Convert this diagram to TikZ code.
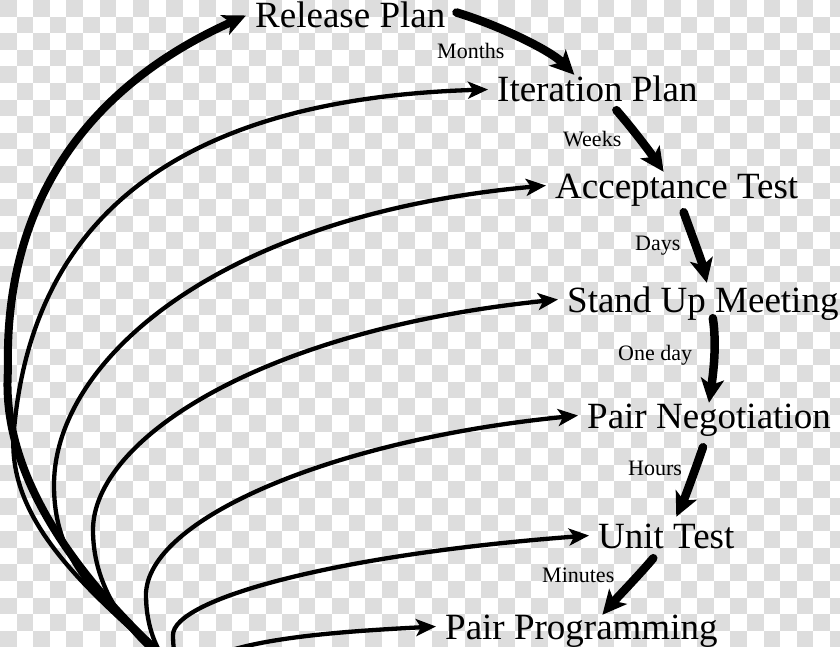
\documentclass[tikz,border=0pt]{standalone}
\usepackage{fontspec}
\setmainfont{Liberation Serif}
\usetikzlibrary{arrows.meta}
\definecolor{checkgray}{RGB}{221,221,221}

\begin{document}
\begin{tikzpicture}[x=1pt,y=-1pt,
	stage/.style={anchor=base west,inner xsep=9pt,inner ysep=0pt,text height=25pt,text depth=0pt,font=\fontsize{37}{40}\selectfont},
	span/.style={anchor=base west,inner sep=0pt,font=\fontsize{22}{24}\selectfont},
	fan/.style={line width=4.3pt,-{Stealth[length=20pt,width=17pt,inset=5pt]}},
	hop/.style={line width=8.5pt,line cap=round,-{Stealth[length=24pt,width=23pt,inset=6pt]}}]
	\useasboundingbox (0,0) rectangle (840,647);
	\clip (0,0) rectangle (840,647);
	
	% Background
	\fill[white] (0,0) rectangle (840,647);
	\foreach \i in {0,...,50}
		\foreach \j in {0,2,...,38}{
			\pgfmathsetmacro\jj{\j+mod(\i,2)}
			\fill[checkgray] (\i*16.6,\jj*16.6) rectangle ++(16.6,16.6);
		}
	
	% Nodes
	\node[stage] (rp) at (246,28) {Release Plan};
	\node[stage] (ip) at (488,102) {Iteration Plan};
	\node[stage] (acc) at (546,198) {Acceptance Test};
	\node[stage] (su) at (558,312) {Stand Up Meeting};
	\node[stage] (pn) at (578,428) {Pair Negotiation};
	\node[stage] (ut) at (589,548) {Unit Test};
	\node[stage] (pp) at (436,639) {Pair Programming};
	
	\node[span] (months) at (437,59) {Months};
	\node[span] (weeks) at (563,147) {Weeks};
	\node[span] (days) at (635,250) {Days};
	\node[span] (oneday) at (618,360) {One day};
	\node[span] (hours) at (628,475) {Hours};
	\node[span] (minutes) at (542,582) {Minutes};
	
	\coordinate (o) at (185,676);
	
	% Curves
	\draw[fan,line width=8pt,-{Stealth[length=23pt,width=21pt,inset=6pt]}] (o) .. controls (85,590) and (0,480) .. (8,370) .. controls (4,210) and (80,90) .. (rp.west);
	\draw[fan] (o) .. controls (85,590) and (5,520) .. (14,430) .. controls (30,250) and (140,100) .. (ip.west);
	\draw[fan] (o) .. controls (95,600) and (54,560) .. (54,485) .. controls (54,360) and (220,215) .. (acc.west);
	\draw[fan] (o) .. controls (130,640) and (93,590) .. (93,530) .. controls (93,440) and (260,330) .. (su.west);
	\draw[fan] (o) .. controls (160,665) and (146,630) .. (146,595) .. controls (146,520) and (330,440) .. (pn.west);
	\draw[fan] (o) .. controls (176,670) and (173,650) .. (173,635) .. controls (173,600) and (330,555) .. (ut.west);
	\draw[fan] (o) .. controls (210,640) and (330,632) .. (pp.west);
	
	% Steps down
	\draw[hop] ([shift={(2,-3)}]rp.east) .. controls (498,25) and (550,50) .. ([shift={(-23,-2)}]ip.north);
	\draw[hop] ([shift={(19,8)}]ip.south) .. controls (632,128) and (650,152) .. ([shift={(-13,-1)}]acc.north);
	\draw[hop] ([shift={(7,14)}]acc.south) .. controls (690,230) and (702,262) .. ([shift={(4,-4)}]su.north);
	\draw[hop] ([shift={(10,6)}]su.south) .. controls (717,345) and (713,375) .. (pn.north);
	\draw[hop] ([shift={(-6,19)}]pn.south) .. controls (697,465) and (684,500) .. ([shift={(10,-6)}]ut.north);
	\draw[hop] ([shift={(-13,10)}]ut.south) .. controls (640,574) and (615,600) .. ([shift={(21,1)}]pp.north);
	
\end{tikzpicture}
\end{document}
